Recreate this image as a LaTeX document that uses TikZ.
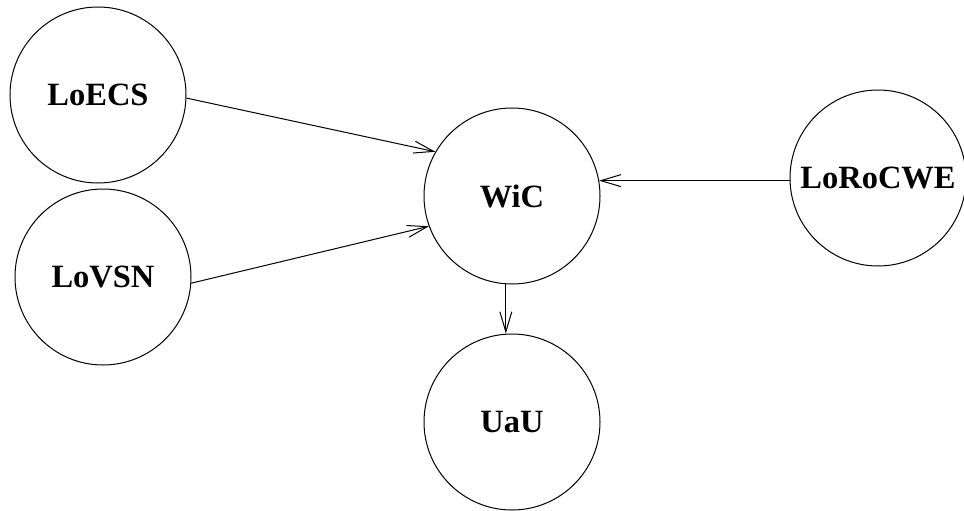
\documentclass[tikz,border=0pt]{standalone}
\usepackage{fontspec}
\setmainfont{Liberation Serif}
\usetikzlibrary{arrows.meta}
\begin{document}
\begin{tikzpicture}[x=1pt,y=-1pt,
  var/.style={draw=black, line width=1pt, circle, minimum size=176pt, inner sep=0pt,
    font=\fontsize{32.5}{39}\selectfont\bfseries},
  edge/.style={draw=black, line width=1pt,
    -{Straight Barb[length=20pt,width=12pt,line width=1pt]}}]
  \useasboundingbox (0,0) rectangle (964,511);
  % variables
  \node[var] (LoECS)   at (98,95)   {LoECS};
  \node[var] (LoVSN)   at (103,277) {LoVSN};
  \node[var] (WiC)     at (512,196) {WiC};
  \node[var] (LoRoCWE) at (878,178) {LoRoCWE};
  \node[var] (UaU)     at (512,422) {UaU};
  % dependencies
  \draw[edge] (LoECS.-2) -- (WiC.150);
  \draw[edge] (LoVSN.-4) -- (WiC.200);
  \draw[edge] (LoRoCWE.west |- WiC.10) -- (WiC.10);
  \draw[edge] (WiC.266) -- (WiC.266 |- UaU.north);
\end{tikzpicture}
\end{document}
